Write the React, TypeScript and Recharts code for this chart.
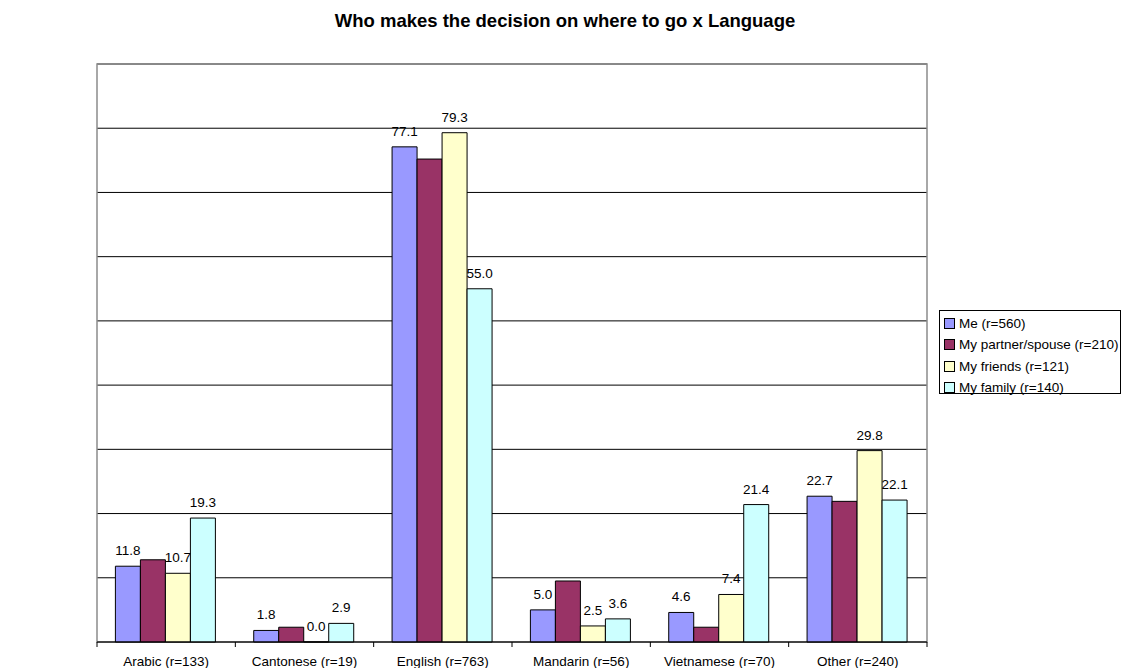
import React from "react";
import {
  Bar,
  BarChart,
  CartesianGrid,
  Label,
  LabelList,
  ReferenceArea,
  XAxis,
  YAxis,
} from "recharts";

const languages = [
  "Arabic (r=133)",
  "Cantonese (r=19)",
  "English (r=763)",
  "Mandarin (r=56)",
  "Vietnamese (r=70)",
  "Other (r=240)",
];
const deciders = [
  "Me (r=560)",
  "My partner/spouse (r=210)",
  "My friends (r=121)",
  "My family (r=140)",
];
const me = [11.8, 1.8, 77.1, 5.0, 4.6, 22.7];
const partner = [12.8, 2.3, 75.2, 9.5, 2.3, 21.9];
const friends = [10.7, 0.0, 79.3, 2.5, 7.4, 29.8];
const family = [19.3, 2.9, 55.0, 3.6, 21.4, 22.1];
const yTicks = [0, 10, 20, 30, 40, 50, 60, 70, 80, 90];

const colors = ["#9999FF", "#993366", "#FFFFCC", "#CCFFFF"];
const keys = ["me", "partner", "friends", "family"];
// partner bars carry no value labels in the original
const labelled = [true, false, true, true];

const data = languages.map((language, i) => ({
  language,
  me: me[i],
  partner: partner[i],
  friends: friends[i],
  family: family[i],
}));

const FONT = 'Arial, "Liberation Sans", sans-serif';

function CategoryTick(props: any) {
  const { x, y, payload, index } = props;
  const half = payload?.offset ?? 69.17;
  return (
    <g>
      <line x1={x - half} y1={y} x2={x - half} y2={y + 5} stroke="#000" />
      {index === languages.length - 1 && (
        <line x1={x + half} y1={y} x2={x + half} y2={y + 5} stroke="#000" />
      )}
      <text
        x={x}
        y={y + 24}
        textAnchor="middle"
        fontSize={13.5}
        fontFamily={FONT}
        fill="#000"
      >
        {payload.value}
      </text>
    </g>
  );
}

function Legend() {
  return (
    <div
      style={{
        position: "absolute",
        left: 939,
        top: 310,
        width: 182,
        height: 84,
        border: "1px solid #000",
        boxSizing: "border-box",
        fontFamily: FONT,
        fontSize: 13.5,
        paddingTop: 2,
      }}
    >
      {deciders.map((name, i) => (
        <div
          key={name}
          style={{
            display: "flex",
            alignItems: "center",
            height: 21.3,
            whiteSpace: "nowrap",
          }}
        >
          <span
            style={{
              display: "inline-block",
              width: 9,
              height: 9,
              marginLeft: 4,
              marginRight: 4,
              background: colors[i],
              border: "1px solid #000",
            }}
          />
          {name}
        </div>
      ))}
    </div>
  );
}

export default function App() {
  return (
    <div
      style={{
        position: "absolute",
        left: 0,
        top: 0,
        width: 1123,
        height: 668,
        background: "#fff",
        fontFamily: FONT,
      }}
    >
      <div
        style={{
          position: "absolute",
          left: 0,
          width: 1130,
          top: 10,
          textAlign: "center",
          fontWeight: "bold",
          fontSize: 18.5,
        }}
      >
        Who makes the decision on where to go x Language
      </div>
      <BarChart
        width={1123}
        height={668}
        data={data}
        margin={{ top: 64, right: 196, bottom: 0, left: 97 }}
        barCategoryGap="13.3%"
        barGap={0}
      >
        <CartesianGrid vertical={false} stroke="#000" strokeOpacity={1} />
        <ReferenceArea y1={0} y2={90} fill="none" stroke="#8c8c8c" strokeWidth={1.5} />
        <XAxis
          dataKey="language"
          height={26}
          interval={0}
          tickSize={0}
          tickMargin={0}
          tickLine={false}
          axisLine={{ stroke: "#000" }}
          tick={<CategoryTick />}
        />
        <YAxis
          width={0}
          domain={[0, 90]}
          ticks={yTicks}
          interval={0}
          tickSize={5}
          axisLine={{ stroke: "#404040" }}
          tickLine={{ stroke: "#404040" }}
          tick={() => <g />}
        >
          <Label
            content={(p: any) => (
              <text
                x={51.5}
                y={(p.viewBox?.y ?? 64) + (p.viewBox?.height ?? 578) / 2 + 8}
                textAnchor="middle"
                fontWeight="bold"
                fontSize={14.5}
                fontFamily={FONT}
                fill="#000"
              >
                Percentage
              </text>
            )}
          />
        </YAxis>
        {keys.map((k, i) => (
          <Bar
            key={k}
            dataKey={k}
            name={deciders[i]}
            fill={colors[i]}
            stroke="#000"
            strokeWidth={1}
            minPointSize={0.01}
            isAnimationActive={false}
          >
            {labelled[i] && (
              <LabelList
                dataKey={k}
                position="top"
                offset={11}
                formatter={(v: any) => Number(v).toFixed(1)}
                fill="#000"
                fontSize={13.5}
                fontFamily={FONT}
              />
            )}
          </Bar>
        ))}
      </BarChart>
      <Legend />
    </div>
  );
}
